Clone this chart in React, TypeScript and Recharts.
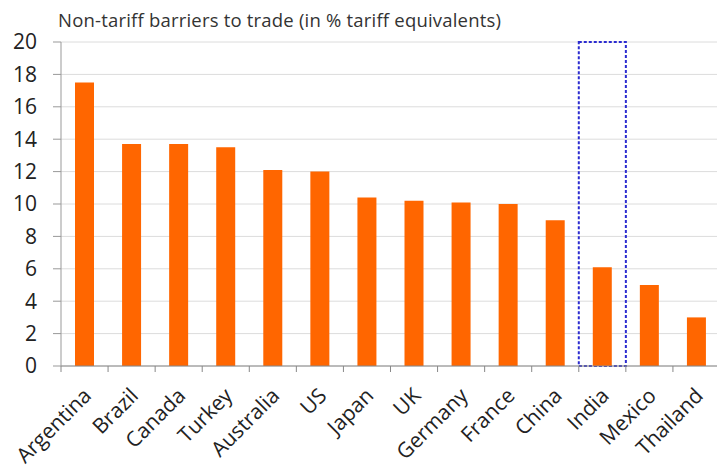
import React from 'react';
import { BarChart, Bar, XAxis, YAxis, CartesianGrid, ReferenceArea } from 'recharts';

const countries = ['Argentina', 'Brazil', 'Canada', 'Turkey', 'Australia', 'US', 'Japan', 'UK', 'Germany', 'France', 'China', 'India', 'Mexico', 'Thailand'];
const barriers = [17.5, 13.7, 13.7, 13.5, 12.1, 12.0, 10.4, 10.2, 10.1, 10.0, 9.0, 6.1, 5.0, 3.0];
const yTicks = [0, 2, 4, 6, 8, 10, 12, 14, 16, 18, 20];
const highlighted = 'India';

const data = countries.map((name, i) => ({ name, value: barriers[i] }));

const FONT = '"Open Sans", "Noto Sans", sans-serif';
const CHART_W = 720;
const LEFT = 61;
const BAND = (CHART_W - LEFT) / countries.length;

const XTick = ({ x, y, payload }: any) => (
  <g transform={`translate(${x},${y})`}>
    <line x1={-BAND / 2} x2={-BAND / 2} y1={0} y2={6} stroke="#888" />
    <text transform="translate(8,31) rotate(-45)" textAnchor="end" fontSize={21} fill="#222" fontFamily={FONT}>
      {payload.value}
    </text>
  </g>
);

export default function App() {
  return <div style={{ position: 'relative', width: 717, height: 473, overflow: 'hidden', background: '#fff' }}>
      <style>{`body{margin:0}`}</style>
      <div style={{ position: 'absolute', left: 58, top: 7, fontFamily: FONT, fontSize: 18.5, letterSpacing: 0.2, color: '#333', whiteSpace: 'nowrap' }}>
        Non-tariff barriers to trade (in % tariff equivalents)
      </div>
      <BarChart width={CHART_W} height={473} data={data} margin={{ top: 42, right: 0, bottom: 0, left: 0 }}>
        <CartesianGrid vertical={false} stroke="#dcdcdc" />
        <XAxis dataKey="name" interval={0} height={107} tickLine={false} tickSize={0} tickMargin={0} stroke="#888" tick={<XTick />} />
        <YAxis width={LEFT} domain={[0, 20]} ticks={yTicks} interval={0} stroke="#999" tickSize={8} tickMargin={16} tick={{ fontSize: 21, fill: '#222', fontFamily: FONT }} />
        <Bar dataKey="value" fill="#ff6600" barSize={19} isAnimationActive={false} />
        <ReferenceArea x1={highlighted} x2={highlighted} y1={0} y2={20} fill="none" stroke="#2b2bd0" strokeWidth={2} strokeDasharray="3 2" ifOverflow="visible" />
      </BarChart>
    </div>;
}
